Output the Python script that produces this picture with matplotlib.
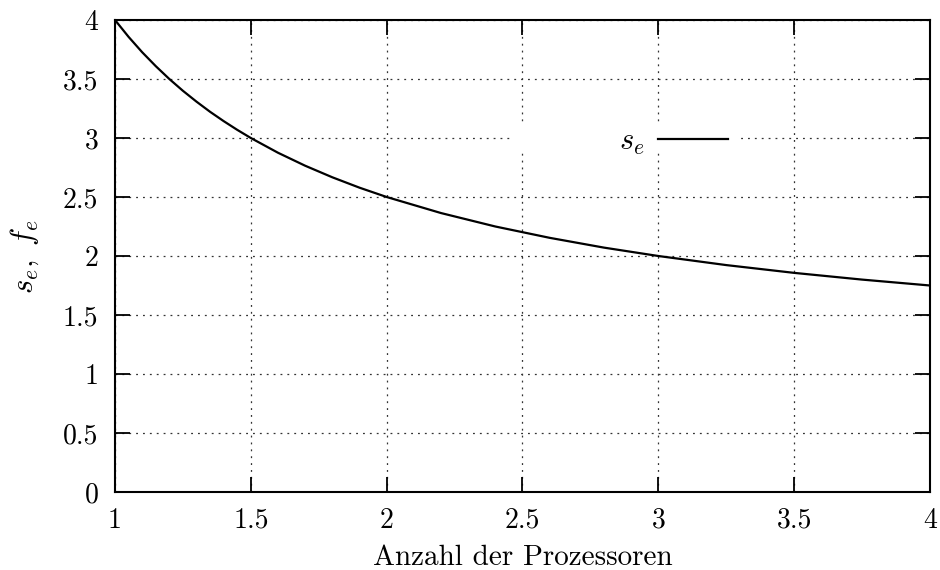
import matplotlib
matplotlib.use("Agg")
import matplotlib.pyplot as plt
from matplotlib.patches import Rectangle

plt.rcParams['font.family'] = 'serif'
plt.rcParams['font.serif'] = ['cmr10', 'DejaVu Serif']
plt.rcParams['mathtext.fontset'] = 'cm'
plt.rcParams['axes.unicode_minus'] = False

# Data
procs = [1.0, 1.05, 1.1, 1.15, 1.2, 1.25, 1.3, 1.35, 1.4, 1.45, 1.5, 1.6, 1.7,
         1.8, 1.9, 2.0, 2.2, 2.4, 2.6, 2.8, 3.0, 3.25, 3.5, 3.75, 4.0]
s_e = [4.0, 3.857, 3.727, 3.609, 3.5, 3.4, 3.308, 3.222, 3.143, 3.069, 3.0,
       2.875, 2.765, 2.667, 2.579, 2.5, 2.364, 2.25, 2.154, 2.071, 2.0,
       1.923, 1.857, 1.8, 1.75]

xticks = [1, 1.5, 2, 2.5, 3, 3.5, 4]
xticklabels = ['1', '1.5', '2', '2.5', '3', '3.5', '4']
yticks = [0, 0.5, 1, 1.5, 2, 2.5, 3, 3.5, 4]
yticklabels = ['0', '0.5', '1', '1.5', '2', '2.5', '3', '3.5', '4']

fig = plt.figure(figsize=(9.4, 5.7), dpi=100)
ax = fig.add_axes([115/940, 1-492/570, 815/940, 472/570])

ax.plot(procs, s_e, color='black', lw=1.6, label=r'$s_e$', zorder=4)

ax.set_xlim(1, 4)
ax.set_ylim(0, 4)
ax.set_xticks(xticks)
ax.set_xticklabels(xticklabels)
ax.set_yticks(yticks)
ax.set_yticklabels(yticklabels)

ax.tick_params(direction='in', length=11, width=1.3, labelsize=20,
               top=True, right=True)
ax.tick_params(axis='x', pad=11)
ax.tick_params(axis='y', pad=12)
for sp in ax.spines.values():
    sp.set_linewidth(1.5)
    sp.set_zorder(5)

ax.grid(True, linestyle=(0, (1.5, 4)), color='#333333', lw=0.9)

# white key background (covers grid like the original key box)
ax.add_patch(Rectangle((0.485, 0.725), 0.282, 0.053, transform=ax.transAxes,
                       facecolor='white', edgecolor='none', zorder=2))

leg = ax.legend(loc='center right', bbox_to_anchor=(0.752, 0.74),
                markerfirst=False, handlelength=2.3, handletextpad=0.42,
                frameon=False, fontsize=22, borderpad=0, borderaxespad=0)
leg.set_zorder(6)

ax.set_xlabel('Anzahl der Prozessoren', fontsize=21, labelpad=8)
ax.set_ylabel(r'$s_e,\ f_e$', fontsize=22, labelpad=16)

fig.savefig('out.png', dpi=100)
